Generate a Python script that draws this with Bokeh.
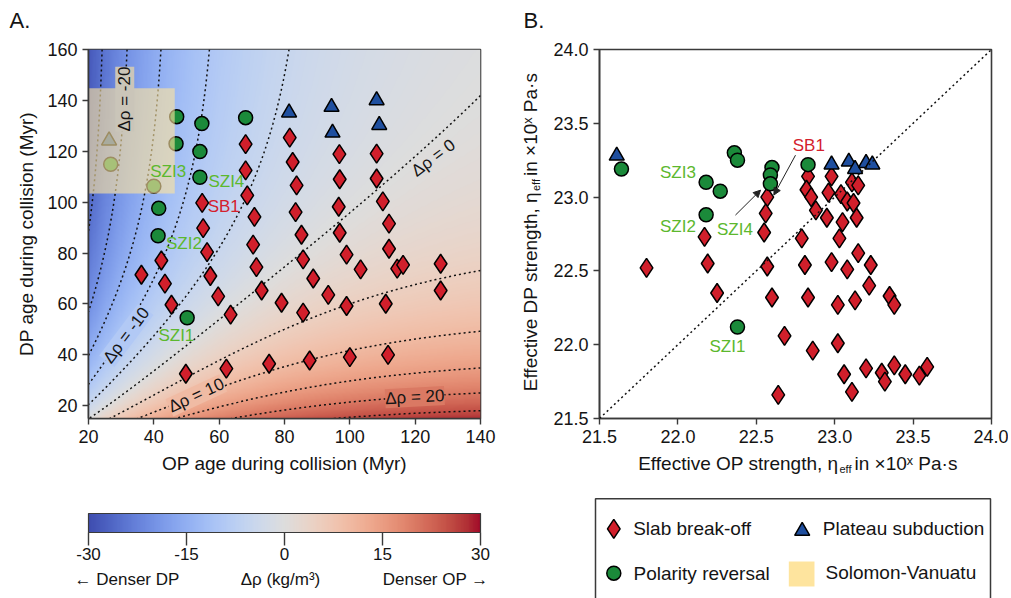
import numpy as np
from bokeh.plotting import figure
from bokeh.models import (Range1d, LinearColorMapper, Label, FixedTicker,
                          NumeralTickFormatter, Slope, Arrow, NormalHead, Plot)
from bokeh.layouts import column, row
from bokeh.embed import file_html
from bokeh.resources import INLINE
from bokeh.core.properties import value

FONT = "Liberation Sans"
AXIS_COLOR = "#3a3a3a"
TEXT_COLOR = "#141414"
RED = "#d11f2b"
GREEN = "#1b8a3a"
BLUE = "#1f4f9f"
LABEL_GREEN = "#5cb82e"
LABEL_RED = "#d4202c"
SV_COLOR = "#fee49e"
SV_ALPHA = 0.62

# ---------------- Panel A data (ages during collision, Myr) ----------------
SB_OP_AGE = [54.8, 55.1, 56.3, 57.3, 59.7, 63.5, 68.1, 68.1, 68.6, 70.8,
             70.4, 71.4, 73.0, 42.3, 36.2, 43.4, 45.4, 49.8, 62.2, 75.3,
             79.1, 81.6, 82.5, 83.7, 83.4, 85.2, 85.7, 88.8, 85.7, 87.7,
             96.8, 96.9, 96.6, 96.9, 99.0, 103.3, 93.4, 99.0, 100.0, 108.2,
             108.2, 110.1, 112.0, 112.0, 114.5, 116.3, 127.8, 127.8, 111.0, 111.7]
SB_DP_AGE = [99.7, 89.8, 80.4, 71.0, 63.0, 55.8, 122.8, 112.5, 102.7, 94.2,
             83.3, 74.5, 65.3, 77.1, 71.5, 68.0, 59.7, 32.6, 34.6, 36.5,
             60.5, 125.4, 115.8, 106.6, 96.1, 87.2, 77.5, 70.0, 56.6, 37.8,
             118.9, 109.0, 98.2, 88.0, 79.4, 73.6, 63.6, 59.2, 39.1, 119.1,
             109.3, 100.3, 91.6, 81.7, 73.9, 75.4, 75.8, 65.3, 60.1, 40.0]
PR_OP_AGE = [47.0, 46.8, 54.7, 54.1, 54.1, 41.5, 41.3, 68.1, 26.8, 40.0, 50.2]
PR_DP_AGE = [133.6, 123.0, 130.9, 119.9, 109.8, 97.6, 86.8, 133.2, 114.9, 106.3, 54.6]
PS_OP_AGE = [26.3, 81.4, 94.4, 94.7, 108.2, 109.0]
PS_DP_AGE = [124.2, 135.2, 137.4, 127.3, 140.0, 130.3]
SV_OP_AGE = [20.0, 46.4]
SV_DP_AGE = [103.4, 144.8]
A_LABELS = ["SZI1", "SZI2", "SZI3", "SZI4", "SB1"]
A_LABEL_OP = [46.9, 49.2, 44.4, 62.2, 61.4]
A_LABEL_DP = [47.7, 83.7, 112.2, 108.3, 98.5]
A_LABEL_COLORS = [LABEL_GREEN, LABEL_GREEN, LABEL_GREEN, LABEL_GREEN, LABEL_RED]
A_XTICKS = [20, 40, 60, 80, 100, 120, 140]
A_YTICKS = [20, 40, 60, 80, 100, 120, 140, 160]
A_XLABEL = "OP age during collision (Myr)"
A_YLABEL = "DP age during collision (Myr)"

# density-contrast model used for the background field
RHO_K_OP = 18.6
RHO_K_DP = 15.5
RHO_T = 100.0
RHO_P = 3.0
RHO_C0 = 13.9
CONTOUR_LEVELS = [-25, -20, -15, -10, -5, 0, 5, 10, 15, 20, 25]
CONTOUR_LABELS = ["Δρ = -20", "Δρ = -10", "Δρ = 0", "Δρ = 10", "Δρ = 20"]
CONTOUR_LABEL_OP = [31.1, 31.6, 125.6, 53.0, 119.9]
CONTOUR_LABEL_DP = [140.5, 47.7, 117.4, 24.1, 23.4]
CONTOUR_LABEL_ANGLE = [90, 53, 37, 25, 3]

# ---------------- Panel B data (log10 effective viscosity) ----------------
SB_OP_ETA = [22.17, 21.80, 22.19, 22.25,
             22.57, 22.56, 22.55, 22.83, 22.82, 22.85, 22.88, 22.96, 22.95, 22.98,
             23.04, 23.08, 23.11, 23.15, 23.12, 23.14, 23.05, 23.03, 22.79, 23.15,
             22.57, 22.81, 22.98, 23.08, 23.23, 23.22, 23.35, 23.38, 22.60, 22.83,
             23.02, 23.13, 22.68, 22.86, 23.02, 23.06, 23.20, 23.30, 23.32, 23.38,
             23.45, 23.54, 23.59, 23.11, 22.64]
SB_DP_ETA = [22.73, 22.52, 22.55, 22.35,
             23.00, 22.89, 22.76, 23.14, 23.05, 23.00, 22.91, 23.03, 22.86, 23.14,
             23.02, 22.97, 23.10, 23.08, 22.96, 22.86, 22.83, 22.72, 22.72, 22.62,
             22.53, 22.54, 22.56, 22.51, 22.54, 22.40, 22.33, 22.27, 22.32, 22.32,
             22.27, 22.30, 22.06, 21.96, 22.01, 21.80, 21.84, 21.81, 21.75, 21.86,
             21.80, 21.79, 21.85, 21.68, 21.66]
PR_OP_ETA = [21.64, 22.36, 22.38, 22.18, 22.27, 22.18, 22.60, 22.59, 22.59, 22.83, 22.38]
PR_DP_ETA = [23.19, 23.30, 23.25, 23.10, 23.04, 22.88, 23.20, 23.15, 23.09, 23.22, 22.12]
PS_OP_ETA = [21.61, 22.98, 23.09, 23.13, 23.20, 23.24]
PS_DP_ETA = [23.28, 23.22, 23.24, 23.19, 23.23, 23.22]
B_LABELS = ["SZI1", "SZI2", "SZI3", "SZI4", "SB1"]
B_LABEL_OP = [22.316, 22.0, 22.0, 22.364, 22.835]
B_LABEL_DP = [21.99, 22.80, 23.17, 22.78, 23.351]
B_LABEL_COLORS = [LABEL_GREEN, LABEL_GREEN, LABEL_GREEN, LABEL_GREEN, LABEL_RED]
B_ARROW_FROM_OP = [22.367, 22.75]
B_ARROW_FROM_DP = [22.878, 23.284]
B_ARROW_TO_OP = [22.527, 22.612]
B_ARROW_TO_DP = [23.047, 23.014]
B_TICKS = [21.5, 22.0, 22.5, 23.0, 23.5, 24.0]
B_XLABEL = ["Effective OP strength, η", "eff", "in ×10ˣ Pa·s"]
B_YLABEL = ["Effective DP strength, η", "eff", "in ×10ˣ Pa·s"]

# ---------------- colour bar / legend ----------------
CB_RANGE = [-30, 30]
CB_TICKS = [-30, -15, 0, 15, 30]
CB_CAPTIONS = ["← Denser DP", "Δρ (kg/m³)", "Denser OP →"]
LEGEND_NAMES = ["Slab break-off", "Plateau subduction", "Polarity reversal", "Solomon-Vanuatu"]
PANEL_TITLES = ["A.", "B."]

# coolwarm (Moreland) control points
CW = [(59, 76, 192), (68, 90, 204), (77, 104, 215), (87, 117, 225), (98, 130, 234),
      (108, 142, 241), (119, 154, 247), (130, 165, 251), (141, 176, 254), (152, 185, 255),
      (163, 194, 255), (174, 201, 253), (184, 208, 249), (194, 213, 244), (204, 217, 238),
      (213, 219, 230), (221, 221, 221), (229, 216, 209), (236, 211, 197), (241, 204, 185),
      (245, 196, 173), (247, 187, 160), (247, 177, 148), (247, 166, 135), (244, 154, 123),
      (241, 141, 111), (236, 127, 99), (229, 112, 88), (222, 96, 77), (213, 80, 66),
      (203, 62, 56), (192, 40, 47), (180, 4, 38)]
CW_ARR = np.array(CW, dtype=float)
CW_POS = np.linspace(0, 1, len(CW))
DESAT = 0.15


def cw_rgb(f):
    c = np.array([np.interp(f, CW_POS, CW_ARR[:, k]) for k in range(3)])
    lum = 0.299 * c[0] + 0.587 * c[1] + 0.114 * c[2]
    c = c * (1 - DESAT) + lum * DESAT
    return tuple(int(round(v)) for v in c)


PALETTE = ["#%02x%02x%02x" % cw_rgb(i / 255) for i in range(256)]


def h_fun(t):
    return np.log(t) - np.log1p((t / RHO_T) ** RHO_P) / RHO_P


def drho(op, dp):
    return RHO_K_OP * h_fun(op) - RHO_K_DP * h_fun(dp) - RHO_C0


def label_bg(op, dp):
    v = float(np.clip(drho(op, dp), CB_RANGE[0], CB_RANGE[1]))
    r = np.array(cw_rgb((v - CB_RANGE[0]) / (CB_RANGE[1] - CB_RANGE[0])), dtype=float)
    if SV_OP_AGE[0] <= op <= SV_OP_AGE[1] and SV_DP_AGE[0] <= dp <= SV_DP_AGE[1]:
        sv = np.array([int(SV_COLOR[i:i + 2], 16) for i in (1, 3, 5)], dtype=float)
        r = SV_ALPHA * sv + (1 - SV_ALPHA) * r
    return "#%02x%02x%02x" % tuple(int(round(c)) for c in r)


HAS_FRAME_ALIGN = "frame_align" in Plot.properties()


def base_fig(**kw):
    p = figure(output_backend="svg", toolbar_location=None, title=None, **kw)
    if HAS_FRAME_ALIGN:
        p.frame_align = False
    p.xgrid.visible = False
    p.ygrid.visible = False
    return p


def blank_fig(width, height, x_range, y_range, **kw):
    p = base_fig(width=width, height=height, x_range=x_range, y_range=y_range,
                 x_axis_location=None, y_axis_location=None, **kw)
    p.outline_line_color = None
    return p


def style_axes(p, xticks, yticks, fmt=None):
    for ax in (p.xaxis[0], p.yaxis[0]):
        ax.axis_line_color = AXIS_COLOR
        ax.axis_line_width = 1.6
        ax.major_tick_line_color = AXIS_COLOR
        ax.major_tick_line_width = 1.4
        ax.major_tick_out = 6
        ax.major_tick_in = 0
        ax.minor_tick_line_color = None
        ax.major_label_text_font = FONT
        ax.major_label_text_font_size = "18px"
        ax.major_label_text_color = TEXT_COLOR
        ax.axis_label_text_font = FONT
        ax.axis_label_text_font_size = "19px"
        ax.axis_label_text_font_style = "normal"
        ax.axis_label_text_color = TEXT_COLOR
        ax.axis_label_standoff = 7
        if fmt:
            ax.formatter = NumeralTickFormatter(format=fmt)
    p.xaxis.ticker = FixedTicker(ticks=xticks)
    p.yaxis.ticker = FixedTicker(ticks=yticks)
    p.outline_line_color = AXIS_COLOR
    p.outline_line_width = 1.6


txt_kw = dict(text_font=value(FONT), text_color=TEXT_COLOR, text_baseline="middle")
mapper = LinearColorMapper(palette=PALETTE, low=CB_RANGE[0], high=CB_RANGE[1])

# page geometry (pixels)
W_TOTAL = 1008
TOP_H = 36
FRAME_TOP, FRAME_BOTTOM = 49, 418
ROW_TOP_B = FRAME_TOP - TOP_H
ROW_BOT_B = 36
ROW_H = ROW_TOP_B + (FRAME_BOTTOM - FRAME_TOP) + ROW_BOT_B
BOT_Y0 = TOP_H + ROW_H
BOT_H = 144

# ================= top strip: panel letters =================
pTop = blank_fig(W_TOTAL, TOP_H, Range1d(0, W_TOTAL), Range1d(TOP_H, 0),
                 min_border=0, min_border_left=0, min_border_right=0,
                 min_border_top=0, min_border_bottom=0)
pTop.text([9, 523], [20, 20], text=PANEL_TITLES, text_font_size="22px",
          text_align="left", **txt_kw)

# ================= Panel A =================
pA = base_fig(width=520, height=ROW_H, x_range=Range1d(20, 140), y_range=Range1d(15, 160),
              min_border_left=88, min_border_right=40, min_border_top=ROW_TOP_B,
              min_border_bottom=ROW_BOT_B)
style_axes(pA, A_XTICKS, A_YTICKS)
pA.yaxis.axis_label = A_YLABEL

xg = np.linspace(20, 140, 361)
yg = np.linspace(15, 160, 436)
XG, YG = np.meshgrid(xg, yg)
ZG = drho(XG, YG)
pA.image(image=[ZG], x=20, y=15, dw=120, dh=145, color_mapper=mapper)
pA.contour(x=xg, y=yg, z=ZG, levels=CONTOUR_LEVELS, line_color="#111111",
           line_width=1.5, line_dash="2 3")

for txt, cx, cy, ang in zip(CONTOUR_LABELS, CONTOUR_LABEL_OP, CONTOUR_LABEL_DP, CONTOUR_LABEL_ANGLE):
    pA.add_layout(Label(x=cx, y=cy, text=txt, angle=ang, angle_units="deg",
                        text_align="center", text_baseline="middle",
                        text_font=FONT, text_font_size="17px", text_color=TEXT_COLOR,
                        background_fill_color=label_bg(cx, cy), background_fill_alpha=1.0))

pA.scatter(SB_OP_AGE, SB_DP_AGE, marker="diamond", size=19, fill_color=RED,
           line_color="black", line_width=1.5)
pA.scatter(PR_OP_AGE, PR_DP_AGE, marker="circle", size=14, fill_color=GREEN,
           line_color="black", line_width=1.5)
pA.scatter(PS_OP_AGE, PS_DP_AGE, marker="triangle", size=15, fill_color=BLUE,
           line_color="black", line_width=1.5)
pA.quad(left=[SV_OP_AGE[0]], right=[SV_OP_AGE[1]], bottom=[SV_DP_AGE[0]], top=[SV_DP_AGE[1]],
        fill_color=SV_COLOR, fill_alpha=SV_ALPHA, line_color=None)
pA.text(A_LABEL_OP, A_LABEL_DP, text=A_LABELS, text_color=A_LABEL_COLORS,
        text_font=value(FONT), text_font_size="17px", text_align="center",
        text_baseline="middle")

# ================= strip with panel B y-axis title =================
pYs = blank_fig(28, ROW_H, Range1d(520, 548), Range1d(FRAME_BOTTOM, FRAME_TOP),
                min_border_left=0, min_border_right=0, min_border_top=ROW_TOP_B,
                min_border_bottom=ROW_BOT_B)
pYs.text([530], [191.5], text=[B_YLABEL[0]], angle=np.pi / 2, text_align="right",
         text_font_size="19px", **txt_kw)
pYs.text([535], [190.5], text=[B_YLABEL[1]], angle=np.pi / 2, text_align="left",
         text_font_size="11px", **txt_kw)
pYs.text([530], [175.5], text=[B_YLABEL[2]], angle=np.pi / 2, text_align="left",
         text_font_size="19px", **txt_kw)

# ================= Panel B =================
pB = base_fig(width=460, height=ROW_H, x_range=Range1d(21.5, 24.0), y_range=Range1d(21.5, 24.0),
              min_border_left=51, min_border_right=17, min_border_top=ROW_TOP_B,
              min_border_bottom=ROW_BOT_B)
style_axes(pB, B_TICKS, B_TICKS, fmt="0.0")
pB.add_layout(Slope(gradient=1, y_intercept=0, line_color="#111111", line_width=1.5,
                    line_dash="2 3"))
pB.scatter(SB_OP_ETA, SB_DP_ETA, marker="diamond", size=19, fill_color=RED,
           line_color="black", line_width=1.5)
pB.scatter(PR_OP_ETA, PR_DP_ETA, marker="circle", size=14, fill_color=GREEN,
           line_color="black", line_width=1.5)
pB.scatter(PS_OP_ETA, PS_DP_ETA, marker="triangle", size=15, fill_color=BLUE,
           line_color="black", line_width=1.5)
pB.text(B_LABEL_OP, B_LABEL_DP, text=B_LABELS, text_color=B_LABEL_COLORS,
        text_font=value(FONT), text_font_size="17px", text_align="center",
        text_baseline="middle")
for xs, ys, xe, ye in zip(B_ARROW_FROM_OP, B_ARROW_FROM_DP, B_ARROW_TO_OP, B_ARROW_TO_DP):
    pB.add_layout(Arrow(end=NormalHead(size=7, fill_color="#222222", line_color="#222222",
                                       line_width=1),
                        x_start=xs, y_start=ys, x_end=xe, y_end=ye,
                        line_color="#222222", line_width=1))

# ================= bottom strip: x titles, colour bar, legend =================
CB_PX0, CB_PX1 = 88, 480


def bx(px):
    return CB_RANGE[0] + (px - CB_PX0) * (CB_RANGE[1] - CB_RANGE[0]) / (CB_PX1 - CB_PX0)


def by(py):
    return py - BOT_Y0


pBot = blank_fig(W_TOTAL, BOT_H, Range1d(bx(0), bx(W_TOTAL)), Range1d(BOT_H, 0),
                 min_border=0, min_border_left=0, min_border_right=0,
                 min_border_top=0, min_border_bottom=0)
# x-axis titles
pBot.text([bx(284)], [by(463)], text=[A_XLABEL], text_font_size="19px",
          text_align="center", **txt_kw)
pBot.text([bx(838)], [by(463)], text=[B_XLABEL[0]], text_font_size="19px",
          text_align="right", **txt_kw)
pBot.text([bx(839)], [by(468)], text=[B_XLABEL[1]], text_font_size="11px",
          text_align="left", **txt_kw)
pBot.text([bx(854)], [by(463)], text=[B_XLABEL[2]], text_font_size="19px",
          text_align="left", **txt_kw)

# colour bar
CB_Y0, CB_Y1 = by(513), by(532)
cb_vals = np.linspace(CB_RANGE[0], CB_RANGE[1], 600).reshape(1, -1)
pBot.image(image=[cb_vals], x=CB_RANGE[0], y=CB_Y0, dw=CB_RANGE[1] - CB_RANGE[0],
           dh=CB_Y1 - CB_Y0, color_mapper=mapper)
pBot.quad(left=[CB_RANGE[0]], right=[CB_RANGE[1]], top=[CB_Y0], bottom=[CB_Y1],
          fill_color=None, line_color=AXIS_COLOR, line_width=1.2)
pBot.segment(x0=CB_TICKS, y0=[CB_Y1] * len(CB_TICKS), x1=CB_TICKS,
             y1=[by(545)] * len(CB_TICKS), line_color=AXIS_COLOR, line_width=1.4)
pBot.text(CB_TICKS, [by(553)] * len(CB_TICKS), text=[str(t) for t in CB_TICKS],
          text_font_size="17px", text_align="center", **txt_kw)
pBot.text([bx(74), bx(280), bx(488)], [by(579)] * 3, text=CB_CAPTIONS,
          text_font_size="17px", text_align=["left", "center", "right"], **txt_kw)

# legend
pBot.quad(left=[bx(595)], right=[bx(990)], top=[by(498.3)], bottom=[by(700)],
          fill_color=None, line_color=AXIS_COLOR, line_width=1.5)
pBot.scatter([bx(613.3)], [by(528.3)], marker="diamond", size=19, fill_color=RED,
             line_color="black", line_width=1.5)
pBot.scatter([bx(801.7)], [by(530.5)], marker="triangle", size=15, fill_color=BLUE,
             line_color="black", line_width=1.5)
pBot.scatter([bx(613.3)], [by(572.7)], marker="circle", size=14, fill_color=GREEN,
             line_color="black", line_width=1.5)
pBot.quad(left=[bx(788.3)], right=[bx(814)], top=[by(561)], bottom=[by(586)],
          fill_color=SV_COLOR, line_color=None)
pBot.text([bx(632.7), bx(822.3), bx(633), bx(825)],
          [by(528.3), by(528.3), by(572.7), by(571.7)], text=LEGEND_NAMES,
          text_font_size="19px", text_align="left", **txt_kw)

layout = column(pTop, row(pA, pYs, pB), pBot)
open("out.html", "w").write(file_html(layout, INLINE))
